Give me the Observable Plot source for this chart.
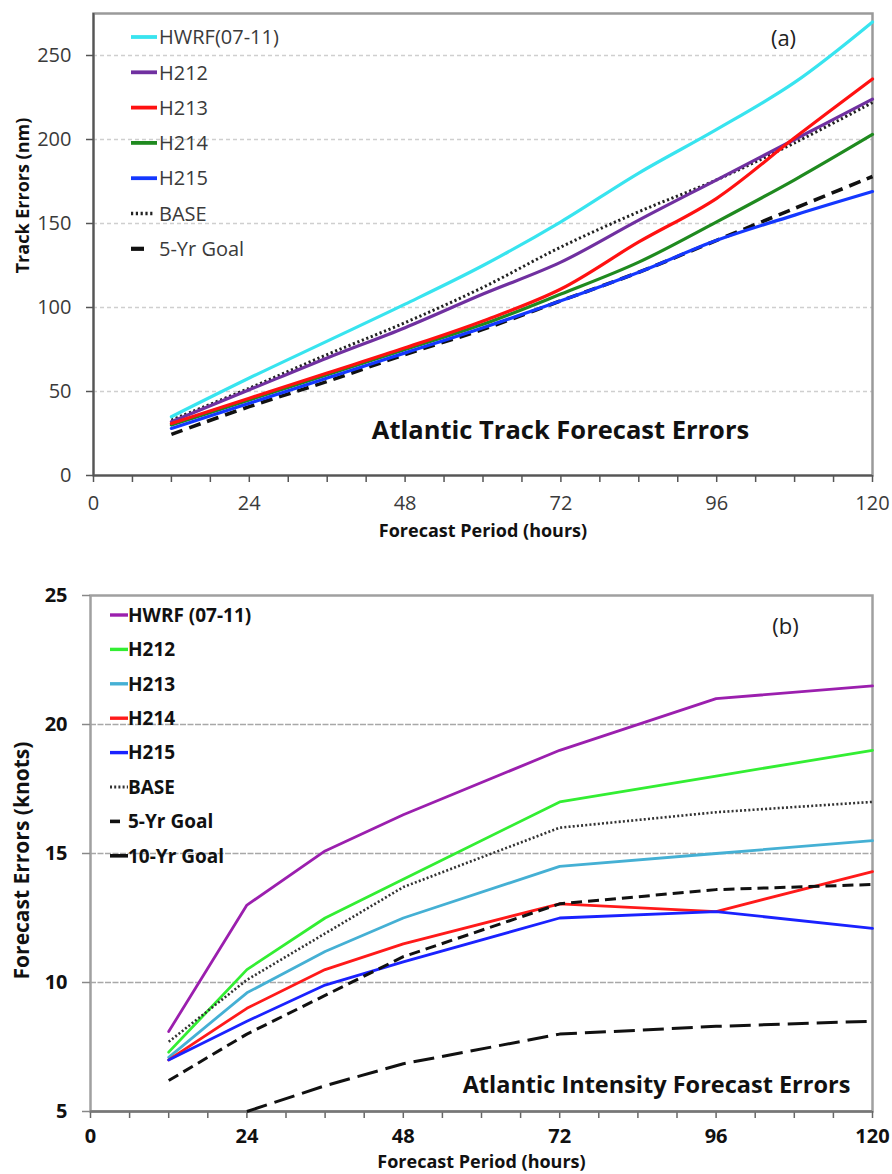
<!DOCTYPE html>
<html>
<head>
<meta charset="utf-8">
<script src="https://cdn.jsdelivr.net/npm/d3@7"></script>
<script src="https://cdn.jsdelivr.net/npm/@observablehq/plot@0.6"></script>
<style>
  html, body { margin: 0; padding: 0; background: white; }
  #a, #b { display: block; line-height: 0; }
  svg { display: block; }
</style>
</head>
<body>
<div id="a"></div>
<div id="b"></div>
<script>
// ---------- Panel (a): Atlantic Track Forecast Errors ----------
const hoursA = [12, 24, 36, 48, 60, 72, 84, 96, 108, 120];
const hwrfA  = [35, 58, 80, 102, 125, 151, 180, 206, 234, 270];
const h212A  = [32, 51, 70, 88, 108, 127, 152, 176, 200, 224];
const h213A  = [31, 46, 61, 76, 92, 111, 139, 165, 201, 236];
const h214A  = [30, 45, 60, 75, 90, 108, 127, 151, 176, 203];
const h215A  = [28, 43, 58, 73, 88, 104, 121, 140, 155, 169];
const baseA  = [33, 52, 72, 91, 112, 136, 157, 176, 198, 222];
const goal5A = [24.5, 41, 56, 72, 87, 104, 121, 140, 159, 178];
const xTicksA = [0, 6, 12, 18, 24, 30, 36, 42, 48, 54, 60, 66, 72, 78, 84, 90, 96, 102, 108, 114, 120];
const xLabelsA = [0, 24, 48, 72, 96, 120];
const yTicksA = [0, 50, 100, 150, 200, 250];
const gridA = [50, 100, 150, 200, 250];
const namesA = ["HWRF(07-11)", "H212", "H213", "H214", "H215", "BASE", "5-Yr Goal"];

// ---------- Panel (b): Atlantic Intensity Forecast Errors ----------
const hoursB = [12, 24, 36, 48, 72, 96, 120];
const hwrfB  = [8.1, 13.0, 15.1, 16.5, 19.0, 21.0, 21.5];
const h212B  = [7.3, 10.5, 12.5, 14.0, 17.0, 18.0, 19.0];
const h213B  = [7.1, 9.6, 11.2, 12.5, 14.5, 15.0, 15.5];
const h214B  = [7.0, 9.0, 10.5, 11.5, 13.05, 12.75, 14.3];
const h215B  = [7.0, 8.5, 9.9, 10.8, 12.5, 12.75, 12.1];
const baseB  = [7.7, 10.1, 11.9, 13.7, 16.0, 16.6, 17.0];
const goal5B = [6.2, 8.0, 9.5, 11.0, 13.05, 13.6, 13.8];
const hours10B = [24, 36, 48, 72, 96, 120];
const goal10B  = [5.0, 6.0, 6.85, 8.0, 8.3, 8.5];
const yTicksB = [5, 10, 15, 20, 25];
const gridB = [10, 15, 20];
const namesB = ["HWRF (07-11)", "H212", "H213", "H214", "H215", "BASE", "5-Yr Goal", "10-Yr Goal"];

const FONT = "'Open Sans', Lato, sans-serif";

function series(xs, ys) { return xs.map((x, i) => ({x, y: ys[i]})); }

// ---------- styles ----------
const stylesA = [
  {stroke: "#38e4ef", strokeWidth: 3.2},
  {stroke: "#7030a0", strokeWidth: 3.2},
  {stroke: "#ff1111", strokeWidth: 3.2},
  {stroke: "#1f8a1f", strokeWidth: 3.2},
  {stroke: "#1438ff", strokeWidth: 3.2},
  {stroke: "#222", strokeWidth: 3, strokeDasharray: "2.2,2.6", strokeLinecap: "butt"},
  {stroke: "#111", strokeWidth: 3.6, strokeDasharray: "12,7", strokeLinecap: "butt"}
];
const dataA = [hwrfA, h212A, h213A, h214A, h215A, baseA, goal5A];
const drawOrderA = [5, 0, 1, 3, 2, 6, 4];

const plotA = Plot.plot({
  width: 892, height: 545,
  marginTop: 13, marginLeft: 93, marginRight: 20, marginBottom: 70,
  style: {fontFamily: FONT, fontSize: "20px", color: "#3a3a3a", background: "white"},
  x: {domain: [0, 120]},
  y: {domain: [0, 275]},
  marks: [
    Plot.ruleY(gridA, {stroke: "#cfcfcf", strokeWidth: 1.3, strokeDasharray: "4,3"}),
    Plot.frame({stroke: "#9a9a9a", strokeWidth: 2.5}),
    Plot.axisX({ticks: xTicksA, tickFormat: d => xLabelsA.includes(d) ? d : "", tickSize: 7, tickPadding: 13, label: null, stroke: "#555", strokeWidth: 1.5}),
    Plot.axisY({ticks: yTicksA, tickSize: 7, tickPadding: 15, label: null, stroke: "#555", strokeWidth: 1.5}),
    Plot.ruleX([0], {stroke: "#555", strokeWidth: 2}),
    Plot.ruleY([0], {stroke: "#555", strokeWidth: 2}),
    ...drawOrderA.map(i => Plot.line(series(hoursA, dataA[i]), {x: "x", y: "y", curve: "catmull-rom", ...stylesA[i]})),
    Plot.text(["Atlantic Track Forecast Errors"], {frameAnchor: "bottom-right", dx: -312, dy: -45, text: d => d, textAnchor: "middle", lineAnchor: "middle", fontSize: 25.5, fontWeight: "bold", fill: "#111"}),
    Plot.text(["(a)"], {frameAnchor: "top-right", dx: -89, dy: 25, text: d => d, textAnchor: "middle", lineAnchor: "middle", fontSize: 22, fill: "#222"}),
    Plot.text(["Track Errors (nm)"], {frameAnchor: "left", dx: -70, dy: -49, rotate: -90, text: d => d, textAnchor: "middle", lineAnchor: "middle", fontSize: 18, fontWeight: "bold", fill: "#111"}),
    Plot.text(["Forecast Period (hours)"], {frameAnchor: "bottom", dy: 56, text: d => d, textAnchor: "middle", lineAnchor: "middle", fontSize: 18, fontWeight: "bold", fill: "#111"})
  ]
});
document.getElementById("a").append(plotA);

// ---------- Panel (b) ----------
const stylesB = [
  {stroke: "#9b1fae", strokeWidth: 2.8},
  {stroke: "#33ee33", strokeWidth: 2.8},
  {stroke: "#45b0d4", strokeWidth: 2.8},
  {stroke: "#ff1a1a", strokeWidth: 2.8},
  {stroke: "#1a22ff", strokeWidth: 2.8},
  {stroke: "#333", strokeWidth: 2.6, strokeDasharray: "2,2.2", strokeLinecap: "butt"},
  {stroke: "#111", strokeWidth: 3, strokeDasharray: "11,6", strokeLinecap: "butt"},
  {stroke: "#111", strokeWidth: 3, strokeDasharray: "21,8", strokeLinecap: "butt"}
];
const dataB = [hwrfB, h212B, h213B, h214B, h215B, baseB, goal5B];

const plotB = Plot.plot({
  width: 892, height: 629,
  marginTop: 50, marginLeft: 90, marginRight: 20, marginBottom: 63,
  style: {fontFamily: FONT, fontSize: "20px", fontWeight: "bold", color: "#111", background: "white"},
  x: {domain: [0, 120]},
  y: {domain: [5, 25]},
  marks: [
    Plot.ruleY(gridB, {stroke: "#a8a8a8", strokeWidth: 1.6, strokeDasharray: "6,1.5"}),
    Plot.frame({stroke: "#a0a0a0", strokeWidth: 2.5}),
    Plot.axisX({ticks: xTicksA, tickFormat: d => xLabelsA.includes(d) ? d : "", tickSize: 7, tickPadding: 10, label: null, stroke: "#666", strokeWidth: 1.5}),
    Plot.axisY({ticks: yTicksB, tickSize: 8, tickPadding: 15, label: null, stroke: "#888", strokeWidth: 1.5}),
    Plot.ruleY([5], {stroke: "#777", strokeWidth: 2.5}),
    ...dataB.map((d, i) => Plot.line(series(hoursB, d), {x: "x", y: "y", ...stylesB[i]})),
    Plot.line(series(hours10B, goal10B), {x: "x", y: "y", ...stylesB[7]}),
    Plot.text(["Atlantic Intensity Forecast Errors"], {frameAnchor: "bottom-right", dx: -216, dy: -26, text: d => d, textAnchor: "middle", lineAnchor: "middle", fontSize: 23.5, fontWeight: "bold", fill: "#111"}),
    Plot.text(["(b)"], {frameAnchor: "top-right", dx: -87, dy: 31, text: d => d, textAnchor: "middle", lineAnchor: "middle", fontSize: 22, fontWeight: "normal", fill: "#222"}),
    Plot.text(["Forecast Errors (knots)"], {frameAnchor: "left", dx: -68, dy: 7, rotate: -90, text: d => d, textAnchor: "middle", lineAnchor: "middle", fontSize: 21, fontWeight: "bold", fill: "#111"}),
    Plot.text(["Forecast Period (hours)"], {frameAnchor: "bottom", dy: 51, text: d => d, textAnchor: "middle", lineAnchor: "middle", fontSize: 18, fontWeight: "bold", fill: "#111"})
  ]
});
document.getElementById("b").append(plotB);

// ---------- in-plot legends ----------
function legend(svgNode, items, opt) {
  const svg = d3.select(svgNode);
  const g = svg.append("g").attr("font-family", FONT).attr("font-size", opt.fontSize)
    .attr("font-weight", opt.fontWeight).attr("text-anchor", "start");
  items.forEach((it, i) => {
    const y = opt.y0 + i * opt.step;
    g.append("line")
      .attr("x1", opt.x0).attr("x2", opt.x0 + (it.len || opt.len))
      .attr("y1", y).attr("y2", y)
      .attr("stroke", it.stroke).attr("stroke-width", it.strokeWidth + 0.6)
      .attr("stroke-dasharray", it.strokeDasharray || null);
    g.append("text").attr("x", opt.tx).attr("y", y).attr("dy", "0.36em")
      .attr("text-anchor", "start").attr("fill", opt.fill).text(it.name);
  });
}
legend(plotA, namesA.map((n, i) => ({name: n, ...stylesA[i], len: i === 6 ? 13 : (i === 5 ? 24 : 0), strokeDasharray: i === 6 ? null : stylesA[i].strokeDasharray})),
  {x0: 131, len: 26, tx: 159, y0: 37, step: 35.3, fontSize: 20, fontWeight: "normal", fill: "#3a3a3a"});
legend(plotB, namesB.map((n, i) => ({name: n, ...stylesB[i], len: i === 6 ? 10 : 0, strokeDasharray: (i >= 6) ? null : stylesB[i].strokeDasharray})),
  {x0: 110, len: 18, tx: 128, y0: 70, step: 34.4, fontSize: 19, fontWeight: "bold", fill: "#111"});
</script>
</body>
</html>
